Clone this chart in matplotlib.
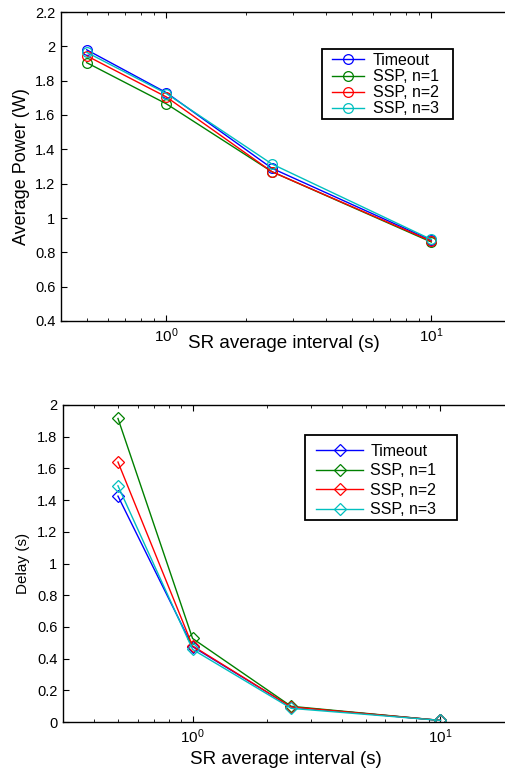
import matplotlib
matplotlib.use("Agg")
import matplotlib.pyplot as plt
from matplotlib.ticker import LogLocator, NullFormatter
from matplotlib.patches import Rectangle

plt.rcParams['font.family'] = ['Liberation Sans', 'DejaVu Sans']
plt.rcParams['mathtext.fontset'] = 'custom'
plt.rcParams['mathtext.rm'] = 'Liberation Sans'

intervals = [0.5, 1.0, 2.5, 10.0]
series_names = ["Timeout", "SSP, n=1", "SSP, n=2", "SSP, n=3"]
colors = ["#0000ff", "#008000", "#ff0000", "#00bfbf"]

power_timeout = [1.98, 1.73, 1.29, 0.87]
power_ssp1 = [1.905, 1.665, 1.27, 0.86]
power_ssp2 = [1.945, 1.705, 1.27, 0.865]
power_ssp3 = [1.965, 1.725, 1.315, 0.875]

delay_timeout = [1.425, 0.475, 0.095, 0.01]
delay_ssp1 = [1.915, 0.527, 0.099, 0.01]
delay_ssp2 = [1.64, 0.48, 0.095, 0.01]
delay_ssp3 = [1.49, 0.458, 0.086, 0.01]

power = [power_timeout, power_ssp1, power_ssp2, power_ssp3]
delay = [delay_timeout, delay_ssp1, delay_ssp2, delay_ssp3]

W, H = 506, 772
fig = plt.figure(figsize=(W / 100, H / 100), dpi=100)

def px_axes(left, top, right, bottom):
    return fig.add_axes([left / W, 1 - bottom / H, (right - left) / W, (bottom - top) / H])

def style(ax):
    ax.set_xscale('log')
    ax.xaxis.set_major_locator(LogLocator(base=10))
    ax.xaxis.set_minor_locator(LogLocator(base=10, subs=range(2, 10)))
    ax.xaxis.set_minor_formatter(NullFormatter())
    ax.tick_params(which='both', direction='in', top=True, right=True)
    ax.tick_params(which='major', length=4, width=0.8)
    ax.tick_params(axis='y', labelsize=10.5, pad=4)
    ax.tick_params(axis='x', labelsize=11, pad=4)
    ax.tick_params(which='minor', length=2.5, width=0.6)
    for s in ax.spines.values():
        s.set_linewidth(1.0)

def frame_box(ax, left, top, right, bottom):
    ax.add_patch(Rectangle((left / W, 1 - bottom / H), (right - left) / W, (bottom - top) / H,
                           transform=fig.transFigure, facecolor='white', edgecolor='black',
                           linewidth=1.3, zorder=4, clip_on=False))

# Top: average power
ax1 = px_axes(61, 12, 511, 321)
for vals, name, c in zip(power, series_names, colors):
    ax1.plot(intervals, vals, color=c, marker='o', markersize=7, markerfacecolor='none',
             markeredgewidth=0.9, linewidth=1.0, label=name)
style(ax1)
ax1.set_xlim(0.4, 20)
ax1.set_ylim(0.4, 2.2)
ax1.set_yticks([0.4, 0.6, 0.8, 1.0, 1.2, 1.4, 1.6, 1.8, 2.0, 2.2])
ax1.set_yticklabels(["0.4", "0.6", "0.8", "1", "1.2", "1.4", "1.6", "1.8", "2", "2.2"])
ax1.set_ylabel("Average Power (W)", fontsize=13, labelpad=4)
ax1.set_xlabel("SR average interval (s)", fontsize=13.5, va='top')
ax1.xaxis.set_label_coords(0.496, -0.046)
frame_box(ax1, 322, 49, 453, 119)
leg1 = ax1.legend(loc='upper left', bbox_to_anchor=(332 / W, 1 - 53 / H),
                  bbox_transform=fig.transFigure, fontsize=11.5, frameon=False,
                  handlelength=2.0, labelspacing=0.07, borderpad=0,
                  handletextpad=0.55, borderaxespad=0)
leg1.set_zorder(5)

# Bottom: delay
ax2 = px_axes(63, 405, 515, 722)
for vals, name, c in zip(delay, series_names, colors):
    ax2.plot(intervals, vals, color=c, marker='D', markersize=6, markerfacecolor='none',
             markeredgewidth=0.9, linewidth=1.0, label=name)
style(ax2)
ax2.set_xlim(0.3, 20)
ax2.set_ylim(0, 2)
ax2.set_yticks([0, 0.2, 0.4, 0.6, 0.8, 1.0, 1.2, 1.4, 1.6, 1.8, 2.0])
ax2.set_yticklabels(["0", "0.2", "0.4", "0.6", "0.8", "1", "1.2", "1.4", "1.6", "1.8", "2"])
ax2.set_ylabel("Delay (s)", fontsize=11, labelpad=5)
ax2.set_xlabel("SR average interval (s)", fontsize=13.5, va='top')
ax2.xaxis.set_label_coords(0.493, -0.092)
frame_box(ax2, 305, 435, 457, 520)
leg2 = ax2.legend(loc='upper left', bbox_to_anchor=(316 / W, 1 - 444 / H),
                  bbox_transform=fig.transFigure, fontsize=11.5, frameon=False,
                  handlelength=2.95, labelspacing=0.28, borderpad=0,
                  handletextpad=0.45, borderaxespad=0)
leg2.set_zorder(5)

fig.savefig("out.png", dpi=100)
